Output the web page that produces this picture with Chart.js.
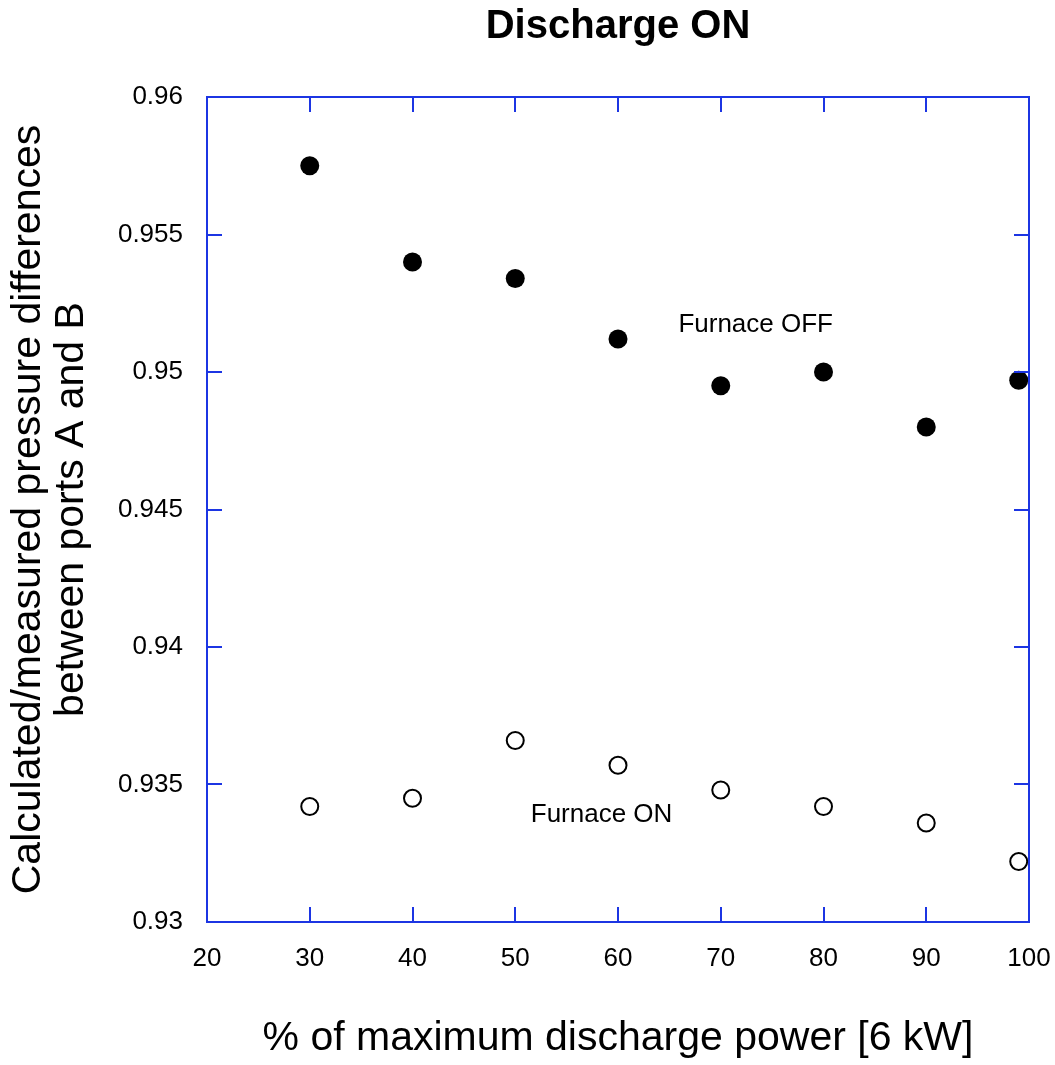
<!DOCTYPE html>
<html>
<head>
<meta charset="utf-8">
<script src="https://cdn.jsdelivr.net/npm/chart.js@4/dist/chart.umd.min.js"></script>
<style>
  html, body { margin: 0; padding: 0; background: #ffffff; }
  #wrap { width: 1055px; height: 1065px; position: relative; }
</style>
</head>
<body>
<div id="wrap"><canvas id="c" width="1055" height="1065"></canvas></div>
<script>
// ---- data ----
const powerPercent = [30, 40, 50, 60, 70, 80, 90, 99];
const furnaceOff = [0.9575, 0.9540, 0.9534, 0.9512, 0.9495, 0.9500, 0.9480, 0.9497];
const furnaceOn  = [0.9342, 0.9345, 0.9366, 0.9357, 0.9348, 0.9342, 0.9336, 0.9322];
const xTickValues = [20, 30, 40, 50, 60, 70, 80, 90, 100];
const xTickLabels = ['20', '30', '40', '50', '60', '70', '80', '90', '100'];
const yTickValues = [0.93, 0.935, 0.94, 0.945, 0.95, 0.955, 0.96];
const yTickLabels = ['0.93', '0.935', '0.94', '0.945', '0.95', '0.955', '0.96'];
const seriesNames = ['Furnace OFF', 'Furnace ON'];
const labelAnchors = [[73.4, 0.95146], [58.4, 0.93364]];

const axisBlue = '#1c35e3';
const FONT = 'Arial, "Liberation Sans", Helvetica, sans-serif';

const frameTicks = {
  id: 'frameTicks',
  beforeDraw(chart) {
    const ca = chart.chartArea;
    if (chart.titleBlock) {
      chart.titleBlock.left = ca.left;
      chart.titleBlock.right = ca.right;
    }
  },
  afterDraw(chart) {
    const ctx = chart.ctx, ca = chart.chartArea;
    const xs = chart.scales.x, ys = chart.scales.y;
    const len = 15;
    ctx.save();
    ctx.strokeStyle = axisBlue;
    ctx.lineWidth = 2;
    ctx.beginPath();
    xTickValues.forEach(v => {
      if (v === xs.min || v === xs.max) return;
      const px = Math.round(xs.getPixelForValue(v));
      ctx.moveTo(px, ca.bottom); ctx.lineTo(px, ca.bottom - len);
      ctx.moveTo(px, ca.top); ctx.lineTo(px, ca.top + len);
    });
    yTickValues.forEach(v => {
      if (Math.abs(v - ys.min) < 1e-9 || Math.abs(v - ys.max) < 1e-9) return;
      const py = Math.round(ys.getPixelForValue(v));
      ctx.moveTo(ca.left, py); ctx.lineTo(ca.left + len, py);
      ctx.moveTo(ca.right, py); ctx.lineTo(ca.right - len, py);
    });
    ctx.stroke();
    ctx.strokeRect(ca.left, ca.top, ca.right - ca.left, ca.bottom - ca.top);
    // series labels
    ctx.fillStyle = '#000';
    ctx.font = '26px ' + FONT;
    ctx.textAlign = 'center';
    ctx.textBaseline = 'alphabetic';
    seriesNames.forEach((name, i) => {
      const [vx, vy] = labelAnchors[i];
      ctx.fillText(name, xs.getPixelForValue(vx), ys.getPixelForValue(vy));
    });
    ctx.restore();
  }
};

new Chart(document.getElementById('c'), {
  type: 'scatter',
  data: {
    datasets: [
      {
        label: seriesNames[0],
        data: powerPercent.map((x, i) => ({ x: x, y: furnaceOff[i] })),
        pointRadius: 9.5,
        pointBackgroundColor: '#000',
        pointBorderColor: '#000',
        pointBorderWidth: 0,
        clip: false
      },
      {
        label: seriesNames[1],
        data: powerPercent.map((x, i) => ({ x: x, y: furnaceOn[i] })),
        pointRadius: 8.5,
        pointBackgroundColor: '#fff',
        pointBorderColor: '#000',
        pointBorderWidth: 2,
        clip: false
      }
    ]
  },
  options: {
    responsive: false,
    animation: false,
    devicePixelRatio: 1,
    layout: { padding: { left: 0, right: 26, top: 0, bottom: 0 } },
    plugins: {
      legend: { display: false },
      tooltip: { enabled: false },
      title: {
        display: true,
        text: 'Discharge ON',
        color: '#000',
        font: { family: FONT, size: 40, weight: 'bold', lineHeight: 0.85 },
        padding: { top: 10, bottom: 53 }
      }
    },
    scales: {
      x: {
        type: 'linear',
        min: 20, max: 100,
        afterBuildTicks: s => { s.ticks = xTickValues.map(v => ({ value: v })); },
        afterFit: s => { s.height = 143; s.paddingLeft = 0; s.paddingRight = 0; },
        ticks: {
          color: '#000',
          font: { family: FONT, size: 26 },
          padding: 21,
          maxRotation: 0,
          callback: (v) => xTickLabels[xTickValues.indexOf(v)]
        },
        grid: { display: false, drawTicks: false },
        border: { display: false },
        title: {
          display: true,
          text: '% of maximum discharge power [6 kW]',
          color: '#000',
          font: { family: FONT, size: 41, lineHeight: 1.2 },
          padding: { top: 0, bottom: 2 }
        }
      },
      y: {
        type: 'linear',
        min: 0.93, max: 0.96,
        afterBuildTicks: s => { s.ticks = yTickValues.map(v => ({ value: v })); },
        afterFit: s => { s.width = 207; s.paddingTop = 0; s.paddingBottom = 0; },
        ticks: {
          color: '#000',
          font: { family: FONT, size: 26 },
          padding: 24,
          callback: (v) => {
            const i = yTickValues.findIndex(t => Math.abs(t - v) < 1e-9);
            return i >= 0 ? yTickLabels[i] : '';
          }
        },
        grid: { display: false, drawTicks: false },
        border: { display: false },
        title: {
          display: true,
          text: ['Calculated/measured pressure differences', 'between ports A and B'],
          color: '#000',
          font: { family: FONT, size: 41, lineHeight: 1.03 },
          padding: { top: 8, bottom: 0 }
        }
      }
    }
  },
  plugins: [frameTicks]
});
</script>
</body>
</html>
